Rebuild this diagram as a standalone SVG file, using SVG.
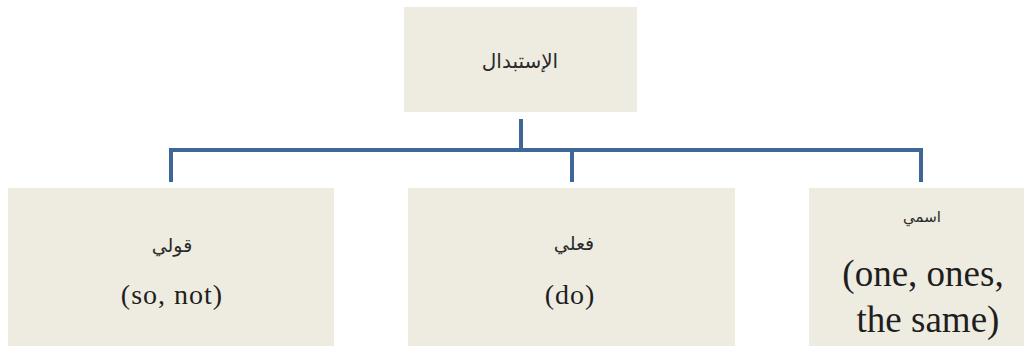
<svg xmlns="http://www.w3.org/2000/svg" width="1024" height="346" viewBox="0 0 1024 346">
  <style>
    .box { fill: #EEECE1; }
    .link { fill: none; stroke: #3E6797; stroke-width: 4; stroke-linecap: butt; stroke-linejoin: miter; }
    .ar { font-family: "DejaVu Sans", sans-serif; fill: #2a2a2a; text-anchor: middle; direction: rtl; }
    .en { font-family: "Liberation Serif", serif; fill: #1e1e1e; text-anchor: middle; }
  </style>
  <rect width="1024" height="346" fill="#ffffff"/>

  <g id="connectors">
    <path class="link" d="M521 119 V150"/>
    <path class="link" d="M171 182 V150 H921 V182"/>
    <path class="link" d="M572 150 V182"/>
  </g>

  <g id="root">
    <rect class="box" x="404" y="7" width="233" height="105"/>
    <text class="ar" x="520" y="68" font-size="20">الإستبدال</text>
  </g>

  <g id="verbal">
    <rect class="box" x="8" y="188" width="326" height="170"/>
    <text class="ar" x="172" y="252" font-size="19">قولي</text>
    <text class="en" x="172" y="304" font-size="28" letter-spacing="1">(so, not)</text>
  </g>

  <g id="clausal">
    <rect class="box" x="408" y="188" width="327" height="170"/>
    <text class="ar" x="574" y="250" font-size="19">فعلي</text>
    <text class="en" x="570" y="304" font-size="28" letter-spacing="1">(do)</text>
  </g>

  <g id="nominal">
    <rect class="box" x="809" y="188" width="230" height="170"/>
    <text class="ar" x="922" y="222" font-size="15">اسمي</text>
    <text class="en" x="923" y="286" font-size="37">(one, ones,</text>
    <text class="en" x="928" y="332" font-size="37">the same)</text>
  </g>
</svg>
